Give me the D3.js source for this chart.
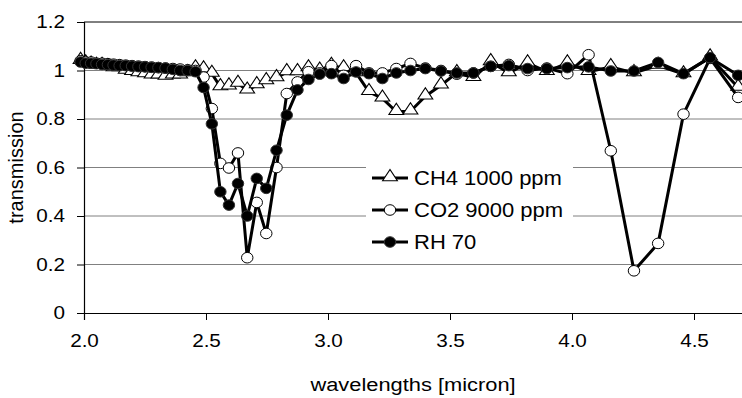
<!DOCTYPE html>
<html>
<head>
<meta charset="utf-8">
<script src="https://cdn.jsdelivr.net/npm/d3@7"></script>
<style>
  body { margin: 0; background: #fff; }
  svg { display: block; font-family: Arial, "Liberation Sans", sans-serif; }
</style>
</head>
<body>
<div id="chart"></div>
<script>
// wavelengths [micron] of the measured points
const wavelengths = [
  1.986, 2.007, 2.029, 2.051, 2.074, 2.098, 2.121, 2.146, 2.171, 2.197,
  2.223, 2.250, 2.277, 2.305, 2.334, 2.364, 2.394, 2.425, 2.457, 2.490,
  2.524, 2.559, 2.594, 2.631, 2.669, 2.708, 2.747, 2.789, 2.831, 2.875,
  2.920, 2.966, 3.014, 3.064, 3.115, 3.168, 3.223, 3.280, 3.338, 3.399,
  3.463, 3.528, 3.596, 3.667, 3.741, 3.818, 3.897, 3.981, 4.068, 4.159,
  4.254, 4.353, 4.457, 4.566, 4.681
];

const ch4 = [
  1.04, 1.03, 1.025, 1.02, 1.02, 1.015, 1.01, 1.01, 1.0, 0.995,
  0.99, 0.985, 0.98, 0.98, 0.975, 0.98, 0.98, 0.99, 1.01, 1.005,
  0.987, 0.932, 0.935, 0.946, 0.918, 0.94, 0.957, 0.969, 0.994, 0.994,
  1.01, 1.0, 1.02, 1.01, 0.99, 0.912, 0.885, 0.83, 0.832, 0.894,
  0.939, 0.99, 0.97, 1.035, 0.99, 1.03, 0.995, 1.03, 0.995, 1.015,
  0.99, 1.02, 0.985, 1.055, 0.93
];

const co2 = [
  1.04, 1.035, 1.035, 1.03, 1.03, 1.028, 1.026, 1.024, 1.022, 1.02,
  1.018, 1.016, 1.014, 1.012, 1.01, 1.008, 1.006, 1.003, 1.0, 0.973,
  0.843, 0.617, 0.598, 0.66, 0.228, 0.456, 0.328, 0.60, 0.905, 0.953,
  0.995, 0.99, 1.02, 0.98, 1.02, 0.99, 0.99, 1.008, 1.029, 1.01,
  1.0, 0.985, 0.99, 1.017, 1.025, 1.0, 1.01, 0.987, 1.065, 0.669,
  0.174, 0.287, 0.82, 1.05, 0.889
];

const rh = [
  1.035, 1.03, 1.03, 1.028, 1.025, 1.024, 1.022, 1.02, 1.02, 1.018,
  1.016, 1.015, 1.013, 1.012, 1.01, 1.005, 1.0, 1.0, 0.995, 0.93,
  0.78, 0.50, 0.445, 0.534, 0.40, 0.555, 0.514, 0.671, 0.816, 0.92,
  0.963, 0.985, 0.987, 0.967, 0.994, 0.987, 0.967, 0.99, 1.0, 1.008,
  0.998, 0.99, 0.99, 1.017, 1.02, 1.008, 1.008, 1.012, 1.015, 0.998,
  0.998, 1.033, 0.987, 1.053, 0.98
];

const xTicks = [2.0, 2.5, 3.0, 3.5, 4.0, 4.5];
const yTicks = [0, 0.2, 0.4, 0.6, 0.8, 1, 1.2];
const seriesNames = ["CH4 1000 ppm", "CO2 9000 ppm", "RH 70"];

const width = 742, height = 398;
const margin = {top: 22, right: 0, bottom: 85, left: 84};
const stretch = 1.15; // the picture is a bit wider than tall

const svg = d3.select("#chart").append("svg")
  .attr("width", width)
  .attr("height", height);

const x = d3.scaleLinear().domain([2.0, 4.7]).range([margin.left, margin.left + 2.7 * 244]);
const y = d3.scaleLinear().domain([0, 1.2]).range([height - margin.bottom, margin.top]);

// gridlines
svg.append("g")
  .selectAll("line")
  .data(yTicks.filter(d => d > 0))
  .enter().append("line")
    .attr("x1", margin.left)
    .attr("x2", width)
    .attr("y1", d => y(d))
    .attr("y2", d => y(d))
    .attr("stroke", d => d === 1.2 ? "#000" : "#808080")
    .attr("stroke-width", 1);

// axes
const yAxis = svg.append("g")
  .attr("transform", "translate(" + margin.left + ",0)")
  .call(d3.axisLeft(y).tickValues(yTicks).tickSize(7).tickPadding(12)
    .tickFormat(d => d === 0 || d === 1 ? String(d) : d3.format(".1f")(d)));

const xAxis = svg.append("g")
  .attr("transform", "translate(0," + y(0) + ")")
  .call(d3.axisBottom(x).tickValues(xTicks).tickSize(7).tickPadding(14)
    .tickFormat(d3.format(".1f")));

[xAxis, yAxis].forEach(a => {
  a.select(".domain").attr("stroke", "#000").attr("stroke-width", 1.2);
  a.selectAll(".tick line").attr("stroke", "#000");
  a.selectAll("text").style("font-size", "18px").attr("fill", "#000")
    .style("font-family", "Arial, 'Liberation Sans', sans-serif");
});
xAxis.selectAll(".tick text").attr("transform", "scale(" + stretch + ",1)");
yAxis.selectAll(".tick text")
  .attr("x", -19 / stretch)
  .attr("transform", "scale(" + stretch + ",1)");

svg.append("text")
  .attr("transform", "translate(" + (margin.left + width) / 2 + ",391) scale(" + stretch + ",1)")
  .attr("text-anchor", "middle")
  .style("font-size", "19px")
  .text("wavelengths [micron]");

svg.append("text")
  .attr("transform", "translate(23," + (y(0) + y(1.2)) / 2 + ") rotate(-90)")
  .attr("text-anchor", "middle")
  .style("font-size", "20px")
  .text("transmission");

// series
const line = d3.line().x(d => x(d[0])).y(d => y(d[1]));
const triangle = d3.symbol().type(d3.symbolTriangle).size(72);

function drawSeries(values, kind) {
  const pts = wavelengths.map((w, i) => [w, values[i]]);
  const g = svg.append("g");
  g.append("path")
    .datum(pts)
    .attr("fill", "none")
    .attr("stroke", "#000")
    .attr("stroke-width", 3)
    .attr("stroke-linejoin", "round")
    .attr("d", line);
  if (kind === "triangle") {
    g.selectAll("path.m").data(pts).enter().append("path")
      .attr("class", "m")
      .attr("d", triangle)
      .attr("transform", d => "translate(" + x(d[0]) + "," + (y(d[1]) - 1) + ") scale(" + stretch + ",1)")
      .attr("fill", "#fff").attr("stroke", "#000").attr("stroke-width", 1);
  } else {
    g.selectAll("ellipse").data(pts).enter().append("ellipse")
      .attr("cx", d => x(d[0]))
      .attr("cy", d => y(d[1]))
      .attr("rx", 5.3 * 1.08)
      .attr("ry", 5.3)
      .attr("fill", kind === "open" ? "#fff" : "#000")
      .attr("stroke", kind === "open" ? "#000" : "#333")
      .attr("stroke-width", 1);
  }
}

drawSeries(ch4, "triangle");
drawSeries(co2, "open");
drawSeries(rh, "filled");

// legend
const legend = svg.append("g");
legend.append("rect")
  .attr("x", 366).attr("y", 160)
  .attr("width", 207).attr("height", 98)
  .attr("fill", "#fff");

const kinds = ["triangle", "open", "filled"];
seriesNames.forEach((name, i) => {
  const ly = 178 + i * 32;
  legend.append("line")
    .attr("x1", 372).attr("x2", 408)
    .attr("y1", ly).attr("y2", ly)
    .attr("stroke", "#000").attr("stroke-width", 3);
  if (kinds[i] === "triangle") {
    legend.append("path").attr("d", triangle)
      .attr("transform", "translate(390," + (ly - 1) + ") scale(" + stretch + ",1)")
      .attr("fill", "#fff").attr("stroke", "#000");
  } else {
    legend.append("ellipse").attr("cx", 390).attr("cy", ly)
      .attr("rx", 5.3 * 1.08).attr("ry", 5.3)
      .attr("fill", kinds[i] === "open" ? "#fff" : "#000")
      .attr("stroke", kinds[i] === "open" ? "#000" : "#333");
  }
  legend.append("text")
    .attr("transform", "translate(414," + ly + ") scale(1.1,1)")
    .attr("dy", "0.35em")
    .style("font-size", "20px")
    .text(name);
});
</script>
</body>
</html>
